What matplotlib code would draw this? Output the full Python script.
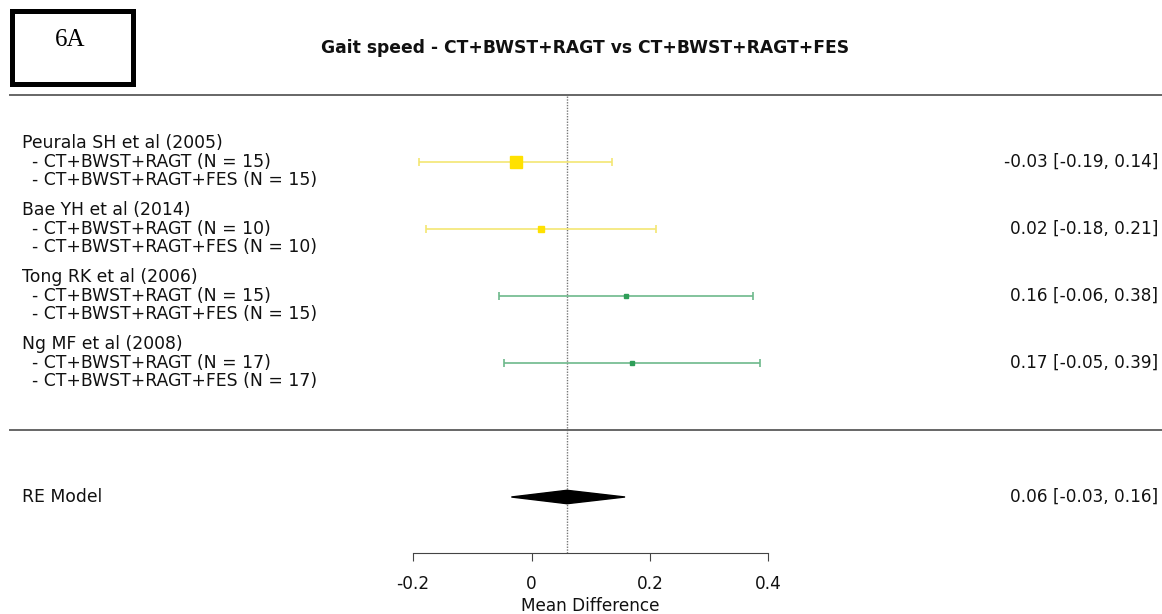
import matplotlib
matplotlib.use("Agg")
import matplotlib.pyplot as plt
from matplotlib.patches import Polygon, Rectangle

# study data
studies = ["Peurala SH et al (2005)", "Bae YH et al (2014)",
           "Tong RK et al (2006)", "Ng MF et al (2008)"]
arm1 = ["- CT+BWST+RAGT (N = 15)", "- CT+BWST+RAGT (N = 10)",
        "- CT+BWST+RAGT (N = 15)", "- CT+BWST+RAGT (N = 17)"]
arm2 = ["- CT+BWST+RAGT+FES (N = 15)", "- CT+BWST+RAGT+FES (N = 10)",
        "- CT+BWST+RAGT+FES (N = 15)", "- CT+BWST+RAGT+FES (N = 17)"]
est = [-0.027, 0.016, 0.159, 0.169]
ci_lo = [-0.19, -0.178, -0.055, -0.046]
ci_hi = [0.136, 0.210, 0.374, 0.386]
labels = ["-0.03 [-0.19, 0.14]", "0.02 [-0.18, 0.21]",
          "0.16 [-0.06, 0.38]", "0.17 [-0.05, 0.39]"]

re_est, re_lo, re_hi = 0.060, -0.034, 0.158
re_label = "0.06 [-0.03, 0.16]"

xticks = [-0.2, 0, 0.2, 0.4]
xticklabels = ["-0.2", "0", "0.2", "0.4"]

# styling
rows = [7, 6, 5, 4]
re_row = 2
marker_sizes = [8.5, 4.2, 2.8, 2.8]
point_colors = ["#FFE100", "#FFE100", "#2E9E58", "#2E9E58"]
line_colors = ["#F3E673", "#F3E673", "#6DB98B", "#6DB98B"]
txt = "#111111"
fs = 12.4

W, H = 1162, 614
fig = plt.figure(figsize=(W / 100, H / 100), dpi=100)
ax = fig.add_axes([0, 0, 1, 1])

# 592 px per unit, zero at x=531.5 px; 67 px per row, row 7 at y=162 px
ax.set_xlim(-531.5 / 592, (W - 531.5) / 592)
ax.set_ylim(7 - (H - 162) / 67, 7 + 162 / 67)
axis_y = 7 - (553 - 162) / 67
yt = ax.get_yaxis_transform()

for i in range(len(studies)):
    ax.errorbar(est[i], rows[i], xerr=[[est[i] - ci_lo[i]], [ci_hi[i] - est[i]]],
                fmt="none", ecolor=line_colors[i], elinewidth=1.2,
                capsize=2.6, capthick=1.2, zorder=2)
    ax.plot(est[i], rows[i], marker="s", ms=marker_sizes[i],
            color=point_colors[i], mec=point_colors[i], zorder=3)

    ax.text(22 / W, rows[i] + 0.29, studies[i], transform=yt,
            ha="left", va="center", fontsize=fs, color=txt)
    ax.text(32 / W, rows[i], arm1[i], transform=yt,
            ha="left", va="center", fontsize=fs, color=txt)
    ax.text(32 / W, rows[i] - 0.27, arm2[i], transform=yt,
            ha="left", va="center", fontsize=fs, color=txt)
    ax.text(1158 / W, rows[i], labels[i], transform=yt,
            ha="right", va="center", fontsize=12.2, color=txt)

# summary diamond
h = 0.1
ax.add_patch(Polygon([[re_lo, re_row], [re_est, re_row + h],
                      [re_hi, re_row], [re_est, re_row - h]],
                     closed=True, color="black", zorder=3))
ax.text(22 / W, re_row, "RE Model", transform=yt, ha="left", va="center",
        fontsize=fs, color=txt)
ax.text(1158 / W, re_row, re_label, transform=yt, ha="right", va="center",
        fontsize=12.2, color=txt)

# reference line and separators
ax.vlines(re_est, axis_y, 8, colors="#777777", linestyles=(0, (1, 1)),
          linewidth=1, zorder=1)
ax.axhline(8, xmin=10 / W, xmax=1, color="#666666", lw=1.4)
ax.axhline(3, xmin=10 / W, xmax=1, color="#666666", lw=1.4)

# x axis
for s in ["top", "right", "left"]:
    ax.spines[s].set_visible(False)
ax.spines["bottom"].set_position(("data", axis_y))
ax.spines["bottom"].set_bounds(-0.2, 0.4)
ax.spines["bottom"].set_color("#444444")
ax.set_xticks(xticks)
ax.set_xticklabels(xticklabels, fontsize=12.2, color=txt)
ax.tick_params(axis="x", length=6, color="#444444", pad=10)
ax.set_yticks([])
ax.text(0.1, 1 - 606 / H, "Mean Difference", transform=ax.get_xaxis_transform(),
        ha="center", va="center", fontsize=12.2, color=txt)

# title and panel tag
fig.text(585 / W, 1 - 48 / H, "Gait speed - CT+BWST+RAGT vs CT+BWST+RAGT+FES",
         ha="center", va="center", fontsize=12.3, fontweight="bold", color=txt)
fig.patches.append(Rectangle((11.5 / W, 1 - 83.5 / H), 121 / W, 72 / H,
                             transform=fig.transFigure, fill=False,
                             edgecolor="black", linewidth=3.6))
fig.text(70 / W, 1 - 40 / H, "6A", ha="center", va="center",
         family="Liberation Serif", fontsize=18, color="black")

fig.savefig("out.png", dpi=100)
